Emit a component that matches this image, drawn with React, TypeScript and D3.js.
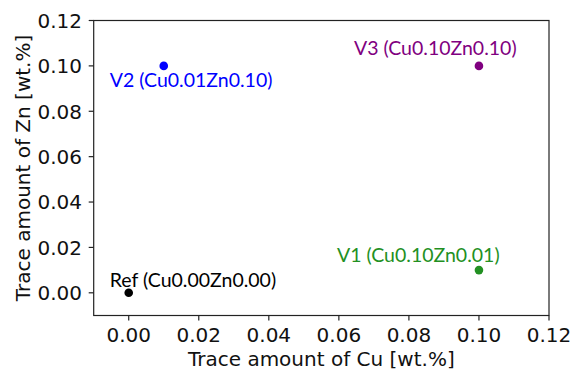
import React from "react";
import { scaleLinear, range } from "d3";

const names = ["Ref", "V1", "V2", "V3"];
const cuValues = [0.0, 0.1, 0.01, 0.1];
const znValues = [0.0, 0.01, 0.1, 0.1];
const labels = ["Ref (Cu0.00Zn0.00)", "V1 (Cu0.10Zn0.01)", "V2 (Cu0.01Zn0.10)", "V3 (Cu0.10Zn0.10)"];
const colors = ["black", "#229022", "blue", "purple"];
const xTicks = range(0, 0.121, 0.02);
const yTicks = range(0, 0.121, 0.02);

// label offset from point, px
const labelOffsets = [
  [-19, -6],
  [-142, -8],
  [-54, 21],
  [-125, -11],
];

const W = 572;
const H = 369;

export default function App() {
  const xScale = scaleLinear().domain([-0.01, 0.12]).range([93.7, 549]);
  const yScale = scaleLinear().domain([-0.01, 0.12]).range([315.5, 20.5]);
  const tickFont = "'DejaVu Sans', sans-serif";
  const annFont = "Lato, sans-serif";
  const [x0, x1] = xScale.range();
  const [y0, y1] = yScale.range();

  return (
    <svg
      width={W}
      height={H}
      viewBox={`0 0 ${W} ${H}`}
      style={{ position: "absolute", left: 0, top: 0, background: "white" }}
    >
      <rect x={0} y={0} width={W} height={H} fill="white" />

      {/* axes frame */}
      <rect x={x0} y={y1} width={x1 - x0} height={y0 - y1} fill="none" stroke="#222" strokeWidth={1.2} />

      {xTicks.map((t, i) => (
        <g key={"xt" + i}>
          <line x1={xScale(t)} x2={xScale(t)} y1={y0} y2={y0 + 5} stroke="#222" strokeWidth={1.2} />
          <text
            x={xScale(t)}
            y={341.7}
            textAnchor="middle"
            fontFamily={tickFont}
            fontSize={20}
            fill="#111"
          >
            {t.toFixed(2)}
          </text>
        </g>
      ))}

      {yTicks.map((t, i) => (
        <g key={"yt" + i}>
          <line x1={x0 - 5} x2={x0} y1={yScale(t)} y2={yScale(t)} stroke="#222" strokeWidth={1.2} />
          <text
            x={82}
            y={yScale(t) + 7.3}
            textAnchor="end"
            fontFamily={tickFont}
            fontSize={20}
            fill="#111"
          >
            {t.toFixed(2)}
          </text>
        </g>
      ))}

      <text
        x={(x0 + x1) / 2}
        y={365.5}
        textAnchor="middle"
        fontFamily={tickFont}
        fontSize={20}
        fill="#111"
      >
        Trace amount of Cu [wt.%]
      </text>
      <text
        transform={`translate(30,${(y0 + y1) / 2}) rotate(-90)`}
        textAnchor="middle"
        fontFamily={tickFont}
        fontSize={20}
        fill="#111"
      >
        Trace amount of Zn [wt.%]
      </text>

      {names.map((n, i) => (
        <g key={n}>
          <circle cx={xScale(cuValues[i])} cy={yScale(znValues[i])} r={4.3} fill={colors[i]} />
          <text
            x={xScale(cuValues[i]) + labelOffsets[i][0]}
            y={yScale(znValues[i]) + labelOffsets[i][1]}
            fontFamily={annFont}
            fontSize={19.5}
            fill={colors[i]}
          >
            {labels[i]}
          </text>
        </g>
      ))}
    </svg>
  );
}
